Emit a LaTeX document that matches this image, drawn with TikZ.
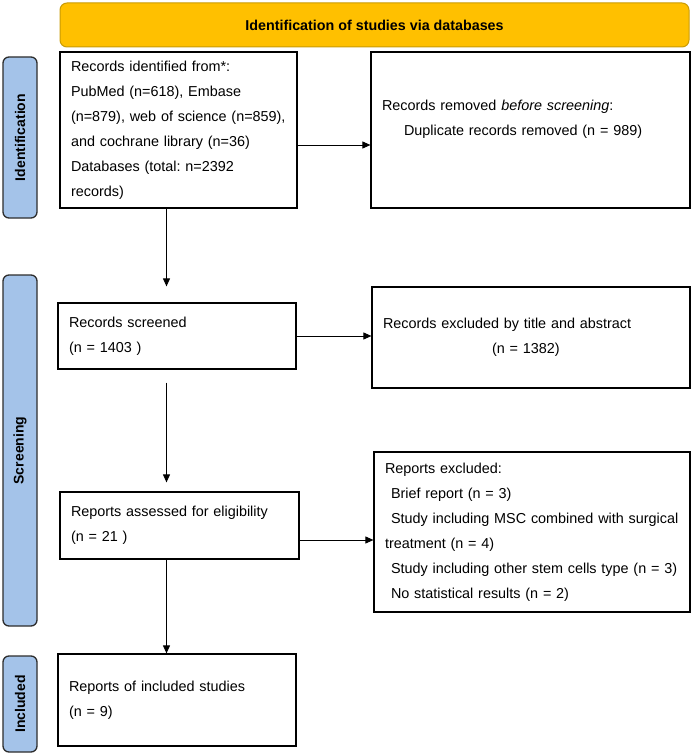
\documentclass[tikz,border=0pt]{standalone}
\usepackage{fontspec}
\setmainfont{Liberation Sans}
\usetikzlibrary{arrows.meta, positioning}
\definecolor{bannergold}{RGB}{255,192,0}
\definecolor{bannerline}{RGB}{201,155,6}
\definecolor{stageblue}{RGB}{164,195,233}
\definecolor{stageline}{RGB}{45,45,45}
\frenchspacing

\begin{document}
\begin{tikzpicture}[x=1pt, y=-1pt,
    banner/.style={rectangle, draw=bannerline, fill=bannergold, rounded corners=7pt, line width=1pt, minimum width=629pt, minimum height=44pt, font=\bfseries\fontsize{14.3}{16}\selectfont},
    stage/.style={rectangle, draw=stageline, fill=stageblue, rounded corners=6pt, line width=1.3pt, rotate=90, minimum height=34pt, font=\bfseries\fontsize{14}{16}\selectfont},
    record/.style={rectangle, draw, line width=1.2pt, inner xsep=11pt, align=left, font=\fontsize{14.4}{25}\selectfont},
    arrow/.style={-{Triangle[length=8pt, width=7pt]}, line width=0.9pt}
]
\useasboundingbox (0,0) rectangle (692,754);

% Title banner
\node[banner] (title) at (374.5,25) {Identification of studies via databases};

% Stage labels
\node[stage, minimum width=161pt] (stageid) at (20,137.5) {Identification};
\node[stage, minimum width=351pt] (stagescr) at (20,450.5) {Screening};
\node[stage, minimum width=96pt] (stageinc) at (20,704) {Included};

% Identification
\node[record, text width=215pt, minimum height=156pt] (records) at (178.5,130) {Records identified from*:\\ PubMed (n=618), Embase\\ (n=879), web of science (n=859),\\ and cochrane library (n=36)\\ Databases (total: n=2392\\ records)};
\node[record, text width=297pt, minimum height=156pt] (removed) at (530.5,130) {Records removed \textit{before screening}:\\ \hspace*{22pt}Duplicate records removed (n = 989)\\ \mbox{}};

% Screening
\node[record, text width=216pt, minimum height=66pt] (screened) at (177,336) {Records screened\\ (n = 1403 )};
\node[record, text width=296pt, minimum height=101pt] (exctitle) at (531,337.5) {Records excluded by title and abstract\\ \hspace*{109pt}(n = 1382)};
\node[record, text width=217pt, minimum height=67pt] (assessed) at (179.5,525.5) {Reports assessed for eligibility\\ (n = 21 )};
\node[record, text width=294pt, minimum height=160pt] (repexcl) at (532,532) {Reports excluded:\\ \hspace*{6pt}Brief report (n = 3)\\ \hspace*{6pt}Study including MSC combined with surgical\\ treatment (n = 4)\\ \hspace*{6pt}Study including other stem cells type (n = 3)\\ \hspace*{6pt}No statistical results (n = 2)};

% Included
\node[record, text width=216pt, minimum height=92pt] (included) at (177,700) {Reports of included studies\\ (n = 9)};

% Connections
\coordinate (spine) at (166.5,0);
\draw[arrow] ([yshift=-15pt]records.east) -- ([yshift=-15pt]records.east -| removed.west);
\draw[arrow, shorten >=16pt] (records.south -| spine) -- (screened.north -| spine);
\draw[arrow] (screened.east) -- (screened.east -| exctitle.west);
\draw[arrow, shorten <=13pt, shorten >=9pt] (screened.south -| spine) -- (assessed.north -| spine);
\draw[arrow] ([yshift=-14.5pt]assessed.east) -- ([yshift=-14.5pt]assessed.east -| repexcl.west);
\draw[arrow] (assessed.south -| spine) -- (included.north -| spine);

\end{tikzpicture}
\end{document}
